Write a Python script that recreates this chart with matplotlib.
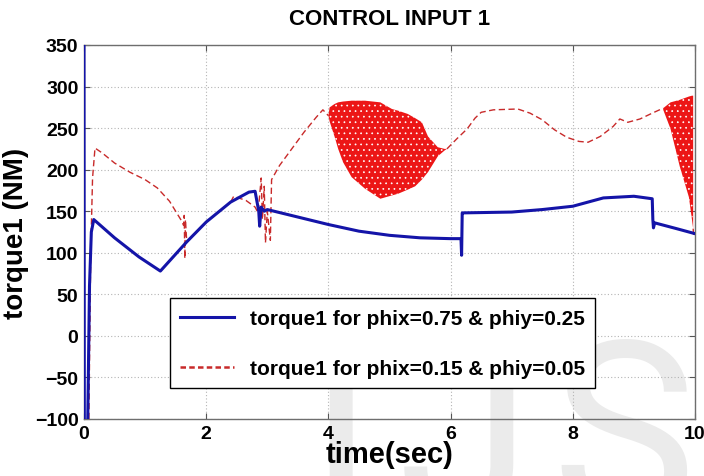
import matplotlib

matplotlib.use("Agg")
import matplotlib.pyplot as plt  # noqa: E402

# blue trace: torque1 for phix=0.75 & phiy=0.25
t_a = [0.0, 0.005, 0.06, 0.09, 0.12, 0.16, 0.5, 0.9, 1.25, 1.68, 2.0, 2.4,
       2.7, 2.8, 2.86, 2.875, 2.9, 2.95, 3.0, 3.5, 4.0, 4.5, 5.0, 5.5, 6.0,
       6.17, 6.18, 6.19, 6.2, 7.0, 7.5, 8.0, 8.5, 9.0, 9.3, 9.31, 9.32,
       9.34, 9.7, 10.0]
tq_a = [350, -110, -110, 60, 125, 140, 118, 95, 78, 113, 137, 161,
        173, 174, 150, 132, 155, 150, 152, 143, 134, 126, 121, 118, 117,
        117, 97, 148, 148, 149, 152, 156, 166, 168, 165, 140, 130,
        136, 129, 123]

# red dashed trace: torque1 for phix=0.15 & phiy=0.05 (outside the chattering bands)
t_b = [0.08, 0.11, 0.14, 0.18, 0.3, 0.5, 0.75, 1.0, 1.2, 1.4, 1.6, 1.63,
       1.64, 1.65, 1.66, 1.68, 1.7, 2.0, 2.4, 2.45, 2.65, 2.8, 2.85, 2.9,
       2.92, 2.95, 2.97, 3.0, 3.05, 3.07, 3.2, 3.4, 3.6, 3.8, 3.91, 4.0]
tq_b = [-100, 100, 190, 226, 220, 208, 197, 188, 178, 162, 138, 133,
        145, 93, 140, 115, 114, 137, 161, 168, 163, 155, 148, 190,
        140, 180, 112, 150, 115, 188, 205, 225, 245, 263, 272, 265]

t_c = [5.94, 6.1, 6.27, 6.4, 6.5, 6.7, 7.1, 7.3, 7.5, 7.7, 7.9, 8.1,
       8.25, 8.45, 8.66, 8.77, 8.9, 9.1, 9.3, 9.48]
tq_c = [225, 237, 249, 262, 269, 272, 273, 268, 260, 248, 239, 234,
        233, 240, 252, 261, 257, 261, 268, 274]

t_d = [9.97, 9.98]
tq_d = [129, 119]

# chattering envelopes (upper / lower) of the red trace
t_band1 = [4.0, 4.02, 4.1, 4.16, 4.24, 4.38, 4.6, 4.85, 5.04, 5.14, 5.3,
           5.42, 5.53, 5.63, 5.79, 5.9, 5.94]
up_band1 = [265, 275, 279, 281, 282, 283, 283, 281, 273, 271, 267,
            262, 257, 240, 227, 225, 225]
lo_band1 = [265, 258, 240, 225, 209, 191, 177, 165, 169, 171, 176,
            180, 188, 197, 216, 223, 225]

t_band2 = [9.48, 9.6, 9.75, 9.9, 9.95, 9.97]
up_band2 = [274, 281, 284, 288, 289, 289]
lo_band2 = [272, 249, 204, 167, 140, 129]

label_a = "torque1 for phix=0.75 & phiy=0.25"
label_b = "torque1 for phix=0.15 & phiy=0.05"

plt.rcParams["font.family"] = ["Liberation Sans", "DejaVu Sans"]
plt.rcParams["hatch.linewidth"] = 0.5

blue = "#1414a8"
red_line = "#c82a2a"
red_fill = "#ec1616"

fig = plt.figure(figsize=(7.04, 4.77), dpi=100)

# faint watermark behind the axes
wm = dict(color="#ebebeb", fontsize=175, family=["Roboto", "DejaVu Sans"],
          weight="normal", va="baseline", zorder=-1)
fig.text(340 / 704, 1 - 515 / 477, "I", ha="center", **wm)
fig.text(532 / 704, 1 - 515 / 477, "J", ha="right", **wm)
fig.text(551 / 704, 1 - 515 / 477, "S", ha="left", **wm)

ax = fig.add_axes([84 / 704, 1 - 420 / 477, 611 / 704, 374 / 477])
ax.set_facecolor("none")

ax.fill_between(t_band1, lo_band1, up_band1, facecolor=red_fill,
                edgecolor="white", hatch="...", linewidth=0, zorder=2)
ax.fill_between(t_band2, lo_band2, up_band2, facecolor=red_fill,
                edgecolor="white", hatch="...", linewidth=0, zorder=2)
ax.plot(t_b, tq_b, color=red_line, lw=1.0, dashes=(4.5, 2.5), zorder=3)
ax.plot(t_c, tq_c, color=red_line, lw=1.0, dashes=(4.5, 2.5), zorder=3)
ax.plot(t_d, tq_d, color=red_line, lw=1.0, dashes=(4.5, 2.5), zorder=3)
ax.plot(t_a, tq_a, color=blue, lw=2.2, zorder=4, label=label_a)
ax.plot([], [], color=red_line, lw=1.8, dashes=(2.2, 1.3), label=label_b)

ax.set_xlim(0, 10)
ax.set_ylim(-100, 350)
ax.set_xticks([0, 2, 4, 6, 8, 10])
ax.set_yticks(range(-100, 351, 50))
ax.grid(True, color="#b4b4b4", linestyle=(0, (1, 2)), linewidth=0.8)
ax.tick_params(direction="in", top=True, right=True, length=4,
               color="#555555", labelsize=14, pad=4)
for lab in ax.get_xticklabels() + ax.get_yticklabels():
    lab.set_fontweight("bold")
for sp in ax.spines.values():
    sp.set_color("#6e6e6e")
    sp.set_linewidth(1.0)

ax.set_title("CONTROL INPUT 1", fontsize=16, fontweight="bold", pad=15)
ax.set_xlabel("time(sec)", fontsize=21, fontweight="bold", labelpad=-1)
ax.set_ylabel("torque1 (NM)", fontsize=20, fontweight="bold", labelpad=4)

leg = ax.legend(loc="center", bbox_to_anchor=(0.4885, 0.202),
                prop={"weight": "bold", "size": 15}, fancybox=False,
                edgecolor="black", framealpha=1, labelspacing=1.5,
                handlelength=2.6, handletextpad=0.75, borderpad=0.5,
                borderaxespad=0)
leg.get_frame().set_linewidth(1.0)
leg.set_zorder(5)

fig.savefig("out.png", dpi=100)
